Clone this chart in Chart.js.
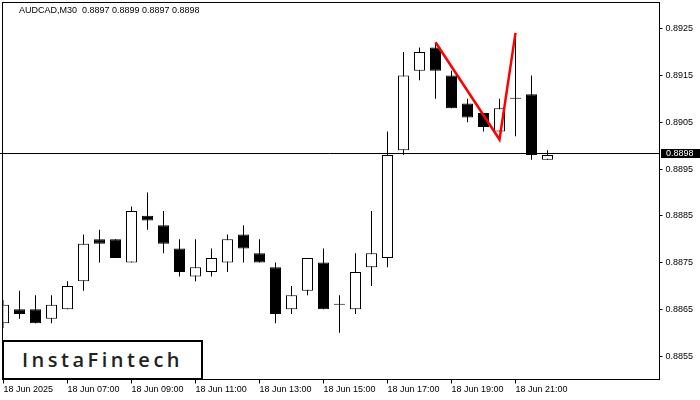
<!DOCTYPE html>
<html>
<head>
<meta charset="utf-8">
<script src="https://cdn.jsdelivr.net/npm/chart.js@4.4.1/dist/chart.umd.min.js"></script>
<style>
  html, body { margin: 0; padding: 0; background: #fff; }
  #wrap { position: relative; width: 700px; height: 400px; }
  #logo {
    position: absolute; left: 2px; top: 340px; width: 197px; height: 36px;
    border: 2px solid #000; background: #fff; color: #222;
    font: 600 20px 'Open Sans', sans-serif; letter-spacing: 3.5px;
    text-align: center; line-height: 36px;
  }
</style>
</head>
<body>
<div id="wrap">
  <canvas id="chart" width="700" height="400"></canvas>
  <div id="logo">InstaFintech</div>
</div>
<script>
// AUDCAD M30 candles
var opens  = [0.8862,0.8865,0.8865,0.8863,0.8865,0.8871,0.8880,0.8880,0.8875,0.8885,0.8883,0.8878,0.8872,0.8873,0.8875,0.8881,0.8877,0.8874,0.8865,0.8869,0.8875,0.8866,0.8865,0.8874,0.8876,0.8899,0.8916,0.8921,0.8915,0.8909,0.8907,0.8903,0.8910,0.8911,0.8897];
var highs  = [0.8867,0.8869,0.8868,0.8868,0.8871,0.8881,0.8882,0.8880,0.8887,0.8890,0.8886,0.8880,0.8880,0.8878,0.8881,0.8883,0.8880,0.8875,0.8870,0.8876,0.8878,0.8868,0.8877,0.8886,0.8903,0.8920,0.8921,0.8922,0.8916,0.8910,0.8907,0.8910,0.8923,0.8915,0.8899];
var lows   = [0.8861,0.8863,0.8862,0.8862,0.8865,0.8869,0.8875,0.8876,0.8875,0.8882,0.8877,0.8872,0.8871,0.8872,0.8873,0.8875,0.8875,0.8862,0.8864,0.8868,0.8865,0.8860,0.8864,0.8870,0.8874,0.8898,0.8914,0.8910,0.8908,0.8905,0.8903,0.8903,0.8902,0.8897,0.8897];
var closes = [0.8866,0.8864,0.8862,0.8866,0.8870,0.8879,0.8879,0.8876,0.8886,0.8884,0.8879,0.8873,0.8874,0.8876,0.8880,0.8878,0.8875,0.8864,0.8868,0.8876,0.8865,0.8866,0.8873,0.8877,0.8898,0.8915,0.8920,0.8916,0.8908,0.8906,0.8904,0.8908,0.8910,0.8898,0.8898];

var slotCount = 42; // visible bar slots incl. empty space on the right
var tickIdx  = [0, 4, 8, 12, 16, 20, 24, 28, 32];
var tickText = ['18 Jun 2025', '18 Jun 07:00', '18 Jun 09:00', '18 Jun 11:00', '18 Jun 13:00',
                '18 Jun 15:00', '18 Jun 17:00', '18 Jun 19:00', '18 Jun 21:00'];
var yTicks = [0.8855, 0.8865, 0.8875, 0.8885, 0.8895, 0.8905, 0.8915, 0.8925];
var yMin = 0.8850, yMax = 0.89306;
var lastPrice = 0.8898;
var titleText = 'AUDCAD,M30  0.8897 0.8899 0.8897 0.8898';

// red pattern (double top style) drawn over the candles
var patternIdx   = [27, 31, 32];
var patternPrice = [0.89221, 0.89013, 0.89241];

var labels = [];
for (var i = 0; i < slotCount; i++) {
  var k = tickIdx.indexOf(i);
  labels.push(k >= 0 ? tickText[k] : '');
}

var bodies = opens.map(function(o, i) { return [o, closes[i]]; });
var wicks = lows.map(function(l, i) { return [l, highs[i]]; });
var pattern = labels.map(function() { return null; });
patternIdx.forEach(function(idx, j) { pattern[idx] = patternPrice[j]; });

function bodyFill(ctx) {
  var i = ctx.dataIndex;
  return closes[i] > opens[i] ? '#ffffff' : '#000000';
}

// row of the bid line (MT4 rounds it one pixel higher than the scale)
function priceRow(chart) {
  return Math.round(chart.scales.y.getPixelForValue(lastPrice)) - 2;
}

var frame = {
  id: 'frame',
  beforeDatasetsDraw: function(chart) {
    var c = chart.ctx, a = chart.chartArea;
    var y = priceRow(chart) + 0.5;
    c.save();
    c.strokeStyle = '#000';
    c.lineWidth = 1;
    c.beginPath();
    c.moveTo(0, y);
    c.lineTo(a.right, y);
    c.stroke();
    c.restore();
  },
  afterDraw: function(chart) {
    var c = chart.ctx, a = chart.chartArea;
    c.save();
    c.strokeStyle = '#000';
    c.lineWidth = 1;
    c.strokeRect(2.5, 2.5, a.right - 2.5, a.bottom - 2.5);

    // current price box on the axis
    var y = priceRow(chart);
    c.fillStyle = '#000';
    c.fillRect(a.right + 1.5, y - 4, 700 - a.right, 9);
    c.fillStyle = '#fff';
    c.font = '9px "Liberation Sans", Arial, sans-serif';
    c.textBaseline = 'middle';
    c.fillText(lastPrice.toFixed(4), 666, y + 1);

    c.fillStyle = '#000';
    c.fillText(titleText, 19, 10.5);
    c.restore();
  }
};

new Chart(document.getElementById('chart'), {
  type: 'bar',
  data: {
    labels: labels,
    datasets: [
      {
        type: 'line',
        data: pattern,
        borderColor: '#ff0000',
        borderWidth: 2.5,
        pointRadius: 0,
        spanGaps: true,
        fill: false,
        order: 0
      },
      {
        data: bodies,
        backgroundColor: bodyFill,
        borderColor: '#000',
        borderWidth: 1,
        borderSkipped: false,
        inflateAmount: 0,
        minBarLength: 1,
        grouped: false,
        categoryPercentage: 1,
        barPercentage: 0.6875,
        maxBarThickness: 11,
        order: 1
      },
      {
        data: wicks,
        backgroundColor: '#000',
        borderWidth: 0,
        inflateAmount: 0,
        grouped: false,
        categoryPercentage: 1,
        barPercentage: 0.0625,
        maxBarThickness: 1,
        order: 2
      }
    ]
  },
  options: {
    responsive: false,
    animation: false,
    devicePixelRatio: 1,
    layout: { padding: { left: 3.5, top: 2.5, right: 0, bottom: 0 } },
    plugins: { legend: { display: false }, tooltip: { enabled: false } },
    scales: {
      x: {
        type: 'category',
        offset: false,
        border: { display: false },
        grid: {
          offset: false,
          drawOnChartArea: false,
          tickLength: 4,
          color: function(ctx) { return labels[ctx.index] ? '#000' : 'rgba(0,0,0,0)'; }
        },
        ticks: {
          autoSkip: false,
          maxRotation: 0,
          minRotation: 0,
          align: 'start',
          padding: 1,
          color: '#000',
          font: { family: '"Liberation Sans", Arial, sans-serif', size: 9 }
        },
        afterFit: function(scale) {
          scale.height = 20.5;
          scale.paddingLeft = 0; scale.paddingRight = 0;
        }
      },
      y: {
        type: 'linear',
        position: 'right',
        min: yMin,
        max: yMax,
        border: { display: false },
        grid: { drawOnChartArea: false, tickLength: 3, color: '#000' },
        ticks: {
          padding: 3,
          color: '#000',
          font: { family: '"Liberation Sans", Arial, sans-serif', size: 9 },
          callback: function(v) { return v.toFixed(4); }
        },
        afterBuildTicks: function(scale) {
          scale.ticks = yTicks.map(function(v) { return { value: v }; });
        },
        afterFit: function(scale) {
          scale.width = 40.5;
          scale.paddingTop = 0; scale.paddingBottom = 0;
        }
      }
    }
  },
  plugins: [frame]
});
</script>
</body>
</html>
